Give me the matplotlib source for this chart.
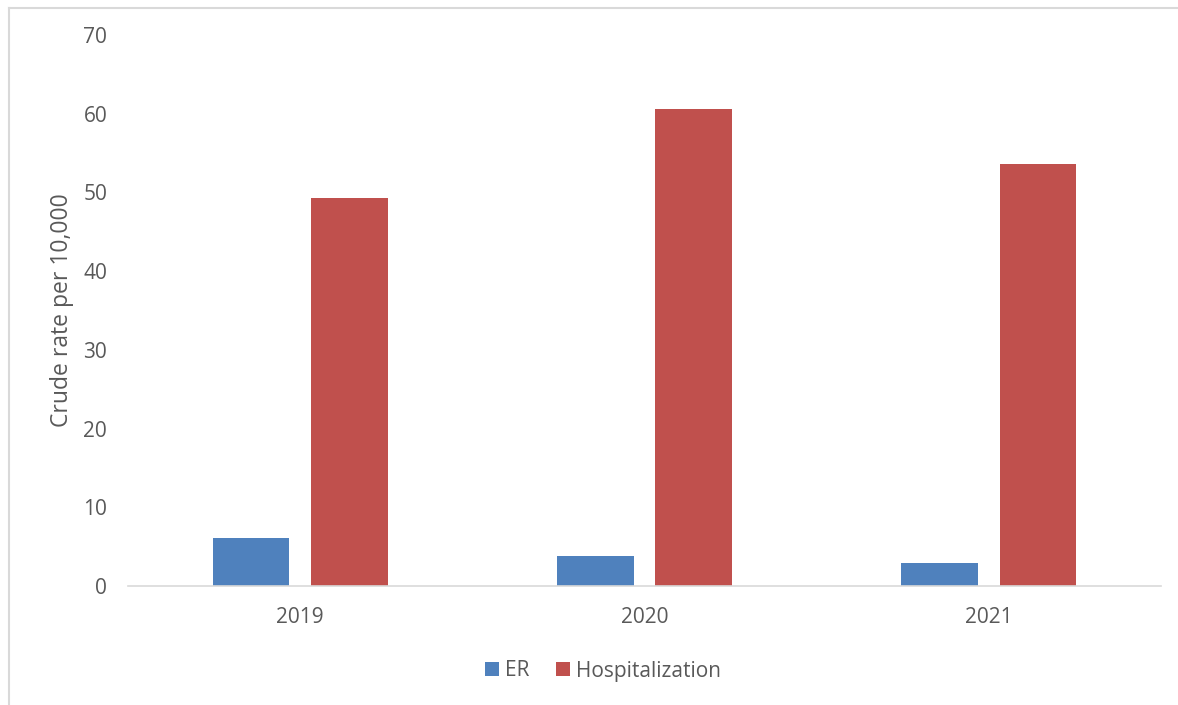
import numpy as np
import matplotlib.pyplot as plt
from matplotlib.lines import Line2D

# data
years = ["2019", "2020", "2021"]
er = [6.1, 3.85, 2.9]
hosp = [49.3, 60.6, 53.6]

blue = "#4F81BD"
red = "#C0504D"
txt = "#595959"
grey = "#D9D9D9"

plt.rcParams['font.family'] = ['Open Sans', 'DejaVu Sans']

fig = plt.figure(figsize=(11.78, 7.05), dpi=100)
ax = fig.add_axes([128/1178, 1-586/705, (1161-128)/1178, (586-35)/705])

x = np.arange(len(years))
w = 0.223
off = 0.143
ax.bar(x - off, er, w, color=blue, label="ER")
ax.bar(x + off, hosp, w, color=red, label="Hospitalization")

ax.set_xlim(-0.5, 2.5)
ax.set_ylim(0, 70)
ax.set_yticks(range(0, 71, 10))
ax.set_xticks(x)
ax.set_xticklabels(years)
ax.tick_params(axis='y', length=0, pad=15, labelsize=15, labelcolor=txt)
ax.tick_params(axis='x', length=0, pad=15, labelsize=15, labelcolor=txt)
for s in ["top", "right", "left"]:
    ax.spines[s].set_visible(False)
ax.spines["bottom"].set_color(grey)
ax.spines["bottom"].set_linewidth(1.2)

ax.set_ylabel("Crude rate per 10,000", fontsize=16.5, color=txt, labelpad=7)

leg = fig.legend(loc="center", bbox_to_anchor=(603/1178, 1-671/705), ncol=2,
                 frameon=False, fontsize=15, handlelength=0.65, handleheight=0.65,
                 handletextpad=0.3, columnspacing=1.3)
for t in leg.get_texts():
    t.set_color(txt)

# outer chart border (top and left visible)
fig.add_artist(Line2D([8.5/1178, 8.5/1178], [0, 1-7.5/705], transform=fig.transFigure, color=grey, lw=1.5))
fig.add_artist(Line2D([8.5/1178, 1], [1-7.5/705, 1-7.5/705], transform=fig.transFigure, color=grey, lw=1.5))

fig.savefig("out.png", dpi=100)
